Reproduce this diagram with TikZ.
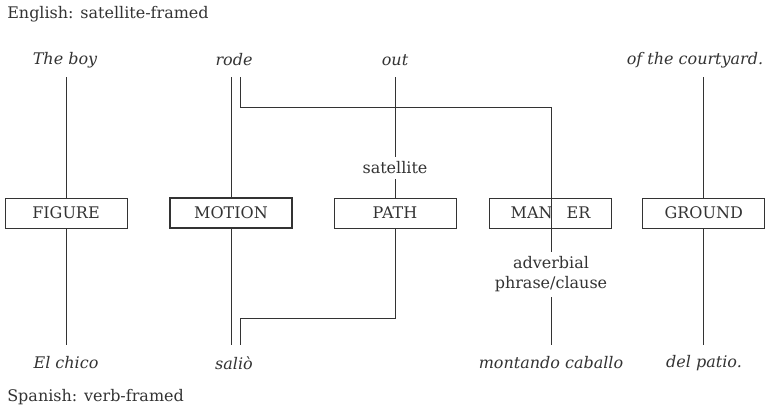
\documentclass[tikz,border=0pt]{standalone}
\usepackage{fontspec}
\setmainfont{DejaVu Serif}
\begin{document}
\begin{tikzpicture}[x=0.75pt,y=-0.75pt,
  every node/.style={inner sep=0pt,text=black!80,font=\fontsize{12}{14.5}\selectfont},
  word/.style={font=\fontsize{12}{14.5}\selectfont\itshape},
  cat/.style={draw=black!80,line width=0.6pt,minimum width=91.5pt,minimum height=22.5pt},
  catbold/.style={cat,line width=0.9pt},
  link/.style={draw=black!80,line width=0.6pt},
  note/.style={align=center}]
\useasboundingbox (0,0) rectangle (771,412);
% titles
\node[anchor=west] (eng) at (7,14) {English: satellite-framed};
\node[anchor=west] (spa) at (7,397) {Spanish: verb-framed};
% top words
\node[word] (boy) at (65,60) {The boy};
\node[word] (rode) at (234,60) {rode};
\node[word] (out) at (395,60) {out};
\node[word] (court) at (695,60) {of the courtyard.};
% bottom words
\node[word] (chico) at (66,363) {El chico};
\node[word] (salio) at (234,363) {saliò};
\node[word] (montando) at (551,363) {montando caballo};
\node[word] (patio) at (704,363) {del patio.};
% categories
\node[cat] (figure) at (66,213) {FIGURE};
\node[catbold] (motion) at (231,213) {MOTION};
\node[cat] (path) at (395,213) {PATH};
\node[cat] (manner) at (550.5,213) {MAN\phantom{N}ER};
\node[cat] (ground) at (703.7,213) {GROUND};
% notes
\node (sat) at (395,168) {satellite};
\node[note] (adv) at (551,274) {adverbial\\phrase/clause};
% coordinates
\coordinate (tF) at (66,77);
\coordinate (bF) at (66,345);
\coordinate (tM) at (231,77);
\coordinate (bM) at (231,345);
\coordinate (tR) at (240,77);
\coordinate (hR) at (240,107);
\coordinate (hN) at (551,107);
\coordinate (aN) at (551,252);
\coordinate (cN) at (551,297);
\coordinate (bN) at (551,345);
\coordinate (tP) at (395,77);
\coordinate (sP1) at (395,157);
\coordinate (sP2) at (395,179);
\coordinate (kP) at (395,318);
\coordinate (kS) at (240,318);
\coordinate (bS) at (240,345);
\coordinate (tG) at (703.7,77);
\coordinate (bG) at (703.7,345);
% connectors
\draw[link] (tF) -- (figure.north);
\draw[link] (figure.south) -- (bF);
\draw[link] (tM) -- (motion.north);
\draw[link] (motion.south) -- (bM);
\draw[link] (tR) -- (hR) -- (hN) -- (aN);
\draw[link] (cN) -- (bN);
\draw[link] (tP) -- (sP1);
\draw[link] (sP2) -- (path.north);
\draw[link] (path.south) -- (kP) -- (kS) -- (bS);
\draw[link] (tG) -- (ground.north);
\draw[link] (ground.south) -- (bG);
\end{tikzpicture}
\end{document}
